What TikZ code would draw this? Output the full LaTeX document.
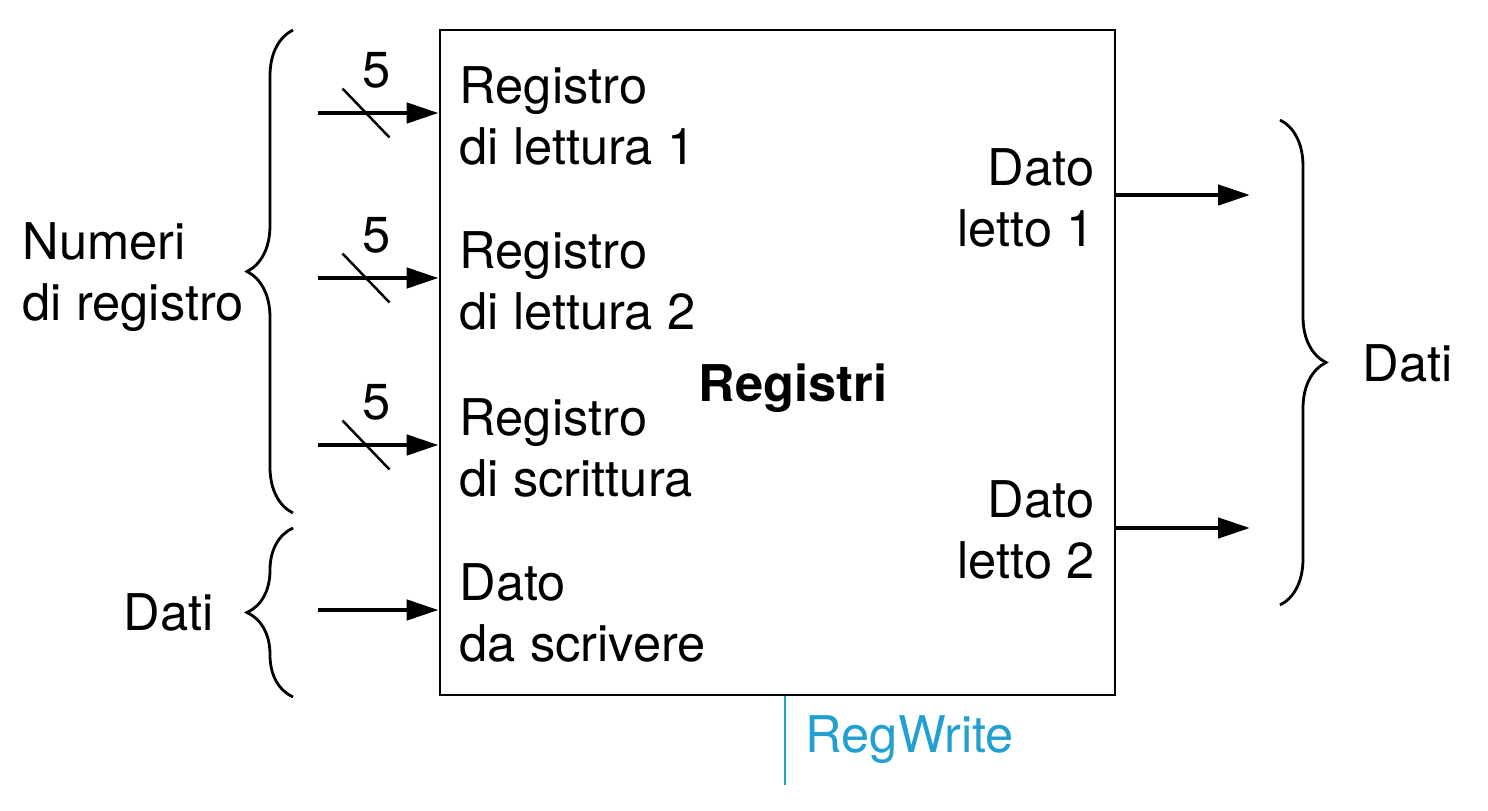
\documentclass[tikz,border=0pt]{standalone}
\usepackage{fontspec}
\setmainfont{TeX Gyre Heros}
\usepackage{tikz}
\usetikzlibrary{decorations.pathreplacing}
\usetikzlibrary{arrows.meta}
\definecolor{ctrlblue}{RGB}{35,160,210}

\begin{document}
\begin{tikzpicture}[font=\fontsize{14.4}{17.2}\selectfont]
		\tikzstyle{block}=[draw,line width=0.8pt,minimum width=6.75cm,minimum height=6.65cm,inner sep=0pt]
		\tikzstyle{bus}=[-{Triangle[length=3.2mm,width=2mm]},line width=1.3pt]
		\tikzstyle{slash}=[line width=0.7pt]
		\tikzstyle{port}=[inner sep=0pt,align=left,anchor=west]
		\tikzstyle{oport}=[inner sep=0pt,align=right,anchor=east]
		\tikzstyle{brc}=[decorate,decoration={brace,amplitude=0.46cm},line width=0.8pt]
		
		\useasboundingbox (0,0) rectangle (14.88,8.10);
		
		\node[block](regs) at (7.775,4.475){};
		\node[font=\fontsize{14.4}{17.2}\selectfont\bfseries](name) at (7.93,4.22){Registri};
		
		\coordinate(r1) at (3.18,6.97);
		\coordinate(r2) at (3.18,5.32);
		\coordinate(w1) at (3.18,3.65);
		\coordinate(wd) at (3.18,2.00);
		
		\node[port](lr1) at (4.59,6.94){Registro\\di lettura 1};
		\node[port](lr2) at (4.59,5.29){Registro\\di lettura 2};
		\node[port](lw1) at (4.59,3.62){Registro\\di scrittura};
		\node[port](lwd) at (4.59,1.97){Dato\\da scrivere};
		
		\node[oport](lo1) at (10.95,6.12){Dato\\letto 1};
		\node[oport](lo2) at (10.95,2.80){Dato\\letto 2};
		
		\coordinate(o1) at (12.50,6.15);
		\coordinate(o2) at (12.50,2.82);
		
		\draw[bus] (r1) -- (r1 -| regs.west);
		\draw[bus] (r2) -- (r2 -| regs.west);
		\draw[bus] (w1) -- (w1 -| regs.west);
		\draw[bus] (wd) -- (wd -| regs.west);
		\draw[bus] (o1 -| regs.east) -- (o1);
		\draw[bus] (o2 -| regs.east) -- (o2);
		
		\coordinate(s1) at (3.66,6.97);
		\coordinate(s2) at (3.66,5.32);
		\coordinate(s3) at (3.66,3.65);
		\draw[slash] ([shift={(-0.235,0.245)}]s1) -- ([shift={(0.235,-0.245)}]s1);
		\draw[slash] ([shift={(-0.235,0.245)}]s2) -- ([shift={(0.235,-0.245)}]s2);
		\draw[slash] ([shift={(-0.235,0.245)}]s3) -- ([shift={(0.235,-0.245)}]s3);
		\node(n1) at (3.77,7.40){5};
		\node(n2) at (3.77,5.75){5};
		\node(n3) at (3.77,4.08){5};
		
		\draw [brc] (2.93,2.97) -- (2.93,7.80);
		\draw [brc] (2.93,1.13) -- (2.93,2.82);
		\draw [brc] (12.80,6.90) -- (12.80,2.05);
		\node[port](numeri) at (0.22,5.33){Numeri\\di registro};
		\node[port](datain) at (1.23,1.98){Dati};
		\node[port](dataout) at (13.62,4.47){Dati};
		
		%\draw[ctrlblue] (regs.south) -- ++(0,-0.9);
		\coordinate(rw) at (7.85,0.25);
		\draw[ctrlblue,line width=0.8pt] (rw |- regs.south) -- (rw);
		\node[port,text=ctrlblue](regwrite) at (8.05,0.70){RegWrite};
\end{tikzpicture}
\end{document}
